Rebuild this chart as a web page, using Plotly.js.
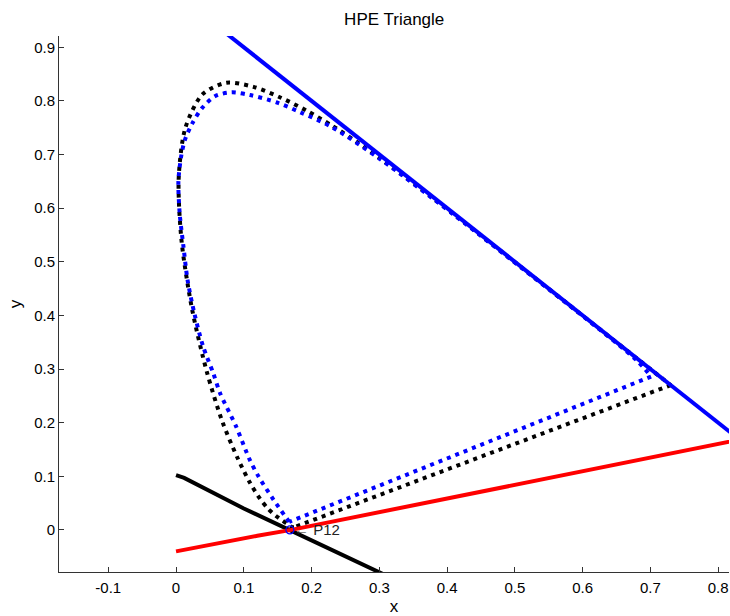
<!DOCTYPE html>
<html>
<head>
<meta charset="utf-8">
<script src="https://cdn.plot.ly/plotly-3.0.1.min.js"></script>
<style>html,body{margin:0;padding:0;background:#fff;}#chart{width:730px;height:616px;}</style>
</head>
<body>
<div id="chart"></div>
<script>
// CIE 1931 spectral locus (black dotted)
const cieX = [0.1741,0.1740,0.1738,0.1736,0.1733,0.1730,0.1726,0.1721,0.1714,0.1703,0.1689,0.1669,0.1644,0.1611,0.1566,0.1510,0.1440,0.1355,0.1241,0.1096,0.0913,0.0687,0.0454,0.0235,0.0082,0.0039,0.0139,0.0389,0.0743,0.1142,0.1547,0.1929,0.2296,0.2658,0.3016,0.3373,0.3731,0.4087,0.4441,0.4788,0.5125,0.5448,0.5752,0.6029,0.6270,0.6482,0.6658,0.6801,0.6915,0.7006,0.7079,0.7140,0.7190,0.7230,0.7260,0.7283,0.7300];
const cieY = [0.0050,0.0050,0.0049,0.0049,0.0048,0.0048,0.0048,0.0048,0.0051,0.0058,0.0069,0.0086,0.0109,0.0138,0.0177,0.0227,0.0297,0.0399,0.0578,0.0868,0.1327,0.2007,0.2950,0.4127,0.5384,0.6548,0.7502,0.8120,0.8338,0.8262,0.8059,0.7816,0.7543,0.7243,0.6923,0.6589,0.6245,0.5896,0.5547,0.5202,0.4866,0.4544,0.4242,0.3965,0.3725,0.3514,0.3340,0.3197,0.3083,0.2993,0.2920,0.2859,0.2809,0.2770,0.2740,0.2717,0.2700];

// Second spectral locus (blue dotted)
const locusX = [0.167,0.144,0.122,0.109,0.0886,0.065,0.055,0.040,0.027,0.017,0.011,0.0054,0.0035,0.0075,0.013,0.024,0.038,0.058,0.082,0.109,0.149,0.183,0.2296,0.3016,0.4087,0.5125,0.6029,0.680,0.701];
const locusY = [0.015,0.056,0.099,0.130,0.193,0.255,0.292,0.342,0.404,0.466,0.528,0.590,0.650,0.696,0.727,0.758,0.786,0.809,0.816,0.811,0.797,0.779,0.7515,0.6910,0.5890,0.4860,0.3962,0.316,0.286];

// Straight lines of the triangle
const blueLineX = [0.0, 1.0];
const blueLineY = [1.0, 0.0];
const redLineX = [0.0, 0.10, 0.12, 0.17, 0.85];
const redLineY = [-0.040, -0.015, -0.011, 0.0, 0.173];
const blackLineX = [0.0, 0.012, 0.10, 0.30, 0.32];
const blackLineY = [0.102, 0.097, 0.040, -0.079, -0.091];

// Point P12
const p12X = [0.168];
const p12Y = [0.0];
const p12Label = '\u2190 P12';

const xTicks = [-0.1,0,0.1,0.2,0.3,0.4,0.5,0.6,0.7,0.8];
const xTickText = ['-0.1','0','0.1','0.2','0.3','0.4','0.5','0.6','0.7','0.8'];
const yTicks = [0,0.1,0.2,0.3,0.4,0.5,0.6,0.7,0.8,0.9];
const yTickText = ['0','0.1','0.2','0.3','0.4','0.5','0.6','0.7','0.8','0.9'];

const FONT = 'Liberation Sans, Arial, Helvetica, sans-serif';
const DOT = '4px,5px';

// closing (purple) lines built from the locus end points
const last = a => a[a.length - 1];
const ciePurpleX = [last(cieX), cieX[0]];
const ciePurpleY = [last(cieY), cieY[0]];
const locusPurpleX = [last(locusX), locusX[0]];
const locusPurpleY = [last(locusY), locusY[0]];

const traces = [
  {x: cieX, y: cieY, mode: 'lines', line: {color: '#000000', width: 4, dash: DOT, shape: 'spline', smoothing: 0.8}, hoverinfo: 'skip'},
  {x: ciePurpleX, y: ciePurpleY, mode: 'lines', line: {color: '#000000', width: 4, dash: DOT}, hoverinfo: 'skip'},
  {x: locusX, y: locusY, mode: 'lines', line: {color: '#0000ff', width: 4, dash: DOT, shape: 'spline', smoothing: 0.8}, hoverinfo: 'skip'},
  {x: locusPurpleX, y: locusPurpleY, mode: 'lines', line: {color: '#0000ff', width: 4, dash: DOT}, hoverinfo: 'skip'},
  {x: blackLineX, y: blackLineY, mode: 'lines', line: {color: '#000000', width: 4}, hoverinfo: 'skip'},
  {x: redLineX, y: redLineY, mode: 'lines', line: {color: '#ff0000', width: 4}, hoverinfo: 'skip'},
  {x: blueLineX, y: blueLineY, mode: 'lines', line: {color: '#0000ff', width: 4}, hoverinfo: 'skip'},
  {x: p12X, y: p12Y, mode: 'markers', marker: {symbol: 'circle-open', size: 8, color: '#0000ff', line: {width: 1.2, color: '#0000ff'}}, hoverinfo: 'skip'}
];

const layout = {
  width: 730, height: 616,
  margin: {l: 59, r: 1, t: 36, b: 44},
  paper_bgcolor: '#ffffff', plot_bgcolor: '#ffffff',
  showlegend: false,
  font: {family: FONT, size: 15, color: '#000000'},
  title: {text: 'HPE Triangle', font: {family: FONT, size: 17, color: '#000000'}, x: 0.54, xref: 'container', y: 0.969, yref: 'container', yanchor: 'middle', xanchor: 'center'},
  xaxis: {
    range: [-0.1727, 0.816], tickvals: xTicks, ticktext: xTickText,
    ticks: 'inside', ticklen: 5, tickwidth: 1, tickcolor: '#333333',
    showline: true, linecolor: '#333333', linewidth: 1, mirror: false,
    showgrid: false, zeroline: false, fixedrange: true,
    tickfont: {family: FONT, size: 15, color: '#000000'},
    ticklabelstandoff: 2,
    title: {text: 'x', font: {family: FONT, size: 17, color: '#000000'}, standoff: 15}
  },
  yaxis: {
    range: [-0.0785, 0.921], tickvals: yTicks, ticktext: yTickText,
    ticks: 'inside', ticklen: 5, tickwidth: 1, tickcolor: '#333333',
    showline: true, linecolor: '#333333', linewidth: 1, mirror: false,
    showgrid: false, zeroline: false, fixedrange: true,
    tickfont: {family: FONT, size: 15, color: '#000000'},
    title: {text: 'y', font: {family: FONT, size: 17, color: '#000000'}, standoff: 8}
  },
  annotations: [
    {x: p12X[0], y: p12Y[0], xref: 'x', yref: 'y', text: p12Label, showarrow: false, xanchor: 'left', yanchor: 'middle', xshift: 2, font: {family: FONT, size: 15, color: '#222222'}}
  ]
};

Plotly.newPlot('chart', traces, layout, {displayModeBar: false, staticPlot: true});
</script>
</body>
</html>
